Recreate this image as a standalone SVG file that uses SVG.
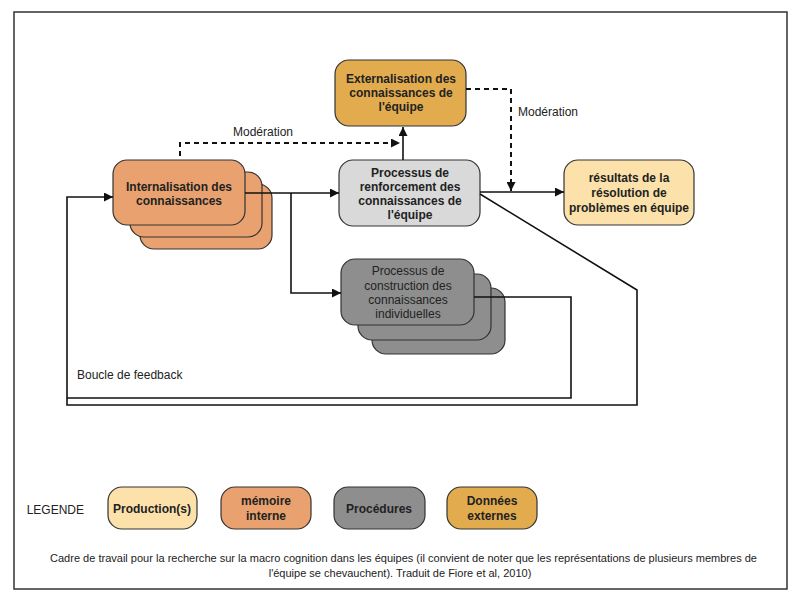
<svg xmlns="http://www.w3.org/2000/svg" width="800" height="600" viewBox="0 0 800 600">
<defs>
<marker id="ah" viewBox="0 0 10 10" refX="10" refY="5" markerWidth="9" markerHeight="9" markerUnits="userSpaceOnUse" orient="auto">
<path d="M0,0 L10,5 L0,10 z" fill="#111"/>
</marker>
<style>
.box{stroke:#333;stroke-width:1.2}
.int{fill:#E9A26F}
.ext{fill:#E2AC4E}
.ren{fill:#D9D9D9}
.con{fill:#8E8E8E}
.res{fill:#FCE2AA}
.t{font-family:"Liberation Sans",Arial,sans-serif;font-size:12px;font-weight:bold;fill:#222;text-anchor:middle}
.tr{font-family:"Liberation Sans",Arial,sans-serif;font-size:12px;fill:#222}
.c{fill:none;stroke:#111;stroke-width:1.6}
.d{fill:none;stroke:#111;stroke-width:2;stroke-dasharray:5,4}
</style>
</defs>
<rect width="800" height="600" fill="#fff"/>
<rect x="14" y="12" width="773" height="577" fill="none" stroke="#333" stroke-width="1.5"/>

<g id="externalisation">
<rect class="box ext" x="335" y="60" width="131" height="66" rx="14"/>
<text class="t" x="401" y="83">Externalisation des</text>
<text class="t" x="401" y="97">connaissances de</text>
<text class="t" x="401" y="111">l'équipe</text>
</g>

<g id="internalisation">
<rect class="box int" x="140" y="184" width="132" height="65" rx="14"/>
<rect class="box int" x="130" y="172" width="132" height="65" rx="14"/>
<rect class="box int" x="113" y="160" width="132" height="65" rx="14"/>
<text class="t" x="179" y="191">Internalisation des</text>
<text class="t" x="179" y="205">connaissances</text>
</g>

<g id="renforcement">
<rect class="box ren" x="339" y="160" width="141" height="66" rx="14"/>
<text class="t" x="410" y="177">Processus de</text>
<text class="t" x="410" y="191">renforcement des</text>
<text class="t" x="410" y="205">connaissances de</text>
<text class="t" x="410" y="219">l'équipe</text>
</g>

<g id="resultats">
<rect class="box res" x="564" y="160" width="130" height="65" rx="14"/>
<text class="t" x="629" y="182">résultats de la</text>
<text class="t" x="629" y="197">résolution de</text>
<text class="t" x="629" y="212">problèmes en équipe</text>
</g>

<g id="construction">
<rect class="box con" x="372" y="288" width="133" height="66" rx="14"/>
<rect class="box con" x="358" y="274" width="133" height="66" rx="14"/>
<rect class="box con" x="341" y="259" width="133" height="66" rx="14"/>
<text class="t" x="408" y="275" style="font-weight:normal">Processus de</text>
<text class="t" x="408" y="290" style="font-weight:normal">construction des</text>
<text class="t" x="408" y="304" style="font-weight:normal">connaissances</text>
<text class="t" x="408" y="318" style="font-weight:normal">individuelles</text>
</g>

<g id="connectors">
<path class="c" d="M245,193 H339" marker-end="url(#ah)"/>
<path class="c" d="M291,193 V293 H341" marker-end="url(#ah)"/>
<path class="c" d="M403,160 V127" marker-end="url(#ah)"/>
<path class="c" d="M480,192 H564" marker-end="url(#ah)"/>
<path class="d" d="M180,156 V143 H400" marker-end="url(#ah)"/>
<path class="d" d="M466,89 H511 V191" marker-end="url(#ah)"/>
<path class="c" d="M474,297 H571 V398 H67"/>
<path class="c" d="M480,194 L637,290 V405 H67 V197 H113" marker-end="url(#ah)"/>
<text class="tr" x="233" y="136">Modération</text>
<text class="tr" x="518" y="116">Modération</text>
<text class="tr" x="77" y="379">Boucle de feedback</text>
</g>

<g id="legend">
<text class="tr" x="84" y="514" style="text-anchor:end">LEGENDE</text>
<g id="leg-production">
<rect class="box res" x="108" y="487" width="89" height="42" rx="14"/>
<text class="t" x="152" y="513">Production(s)</text>
</g>
<g id="leg-memoire">
<rect class="box int" x="221" y="487" width="90" height="42" rx="14"/>
<text class="t" x="266" y="505">mémoire</text>
<text class="t" x="266" y="520">interne</text>
</g>
<g id="leg-procedures">
<rect class="box con" x="334" y="487" width="91" height="42" rx="14"/>
<text class="t" x="379" y="513">Procédures</text>
</g>
<g id="leg-donnees">
<rect class="box ext" x="447" y="487" width="90" height="42" rx="14"/>
<text class="t" x="492" y="505">Données</text>
<text class="t" x="492" y="520">externes</text>
</g>
</g>

<g id="caption">
<text class="tr" x="50" y="562" style="font-size:11px" textLength="707" lengthAdjust="spacingAndGlyphs">Cadre de travail pour la recherche sur la macro cognition dans les équipes (il convient de noter que les représentations de plusieurs membres de</text>
<text class="tr" x="400" y="577" style="font-size:11px;text-anchor:middle">l'équipe se chevauchent). Traduit de Fiore et al, 2010)</text>
</g>
</svg>
